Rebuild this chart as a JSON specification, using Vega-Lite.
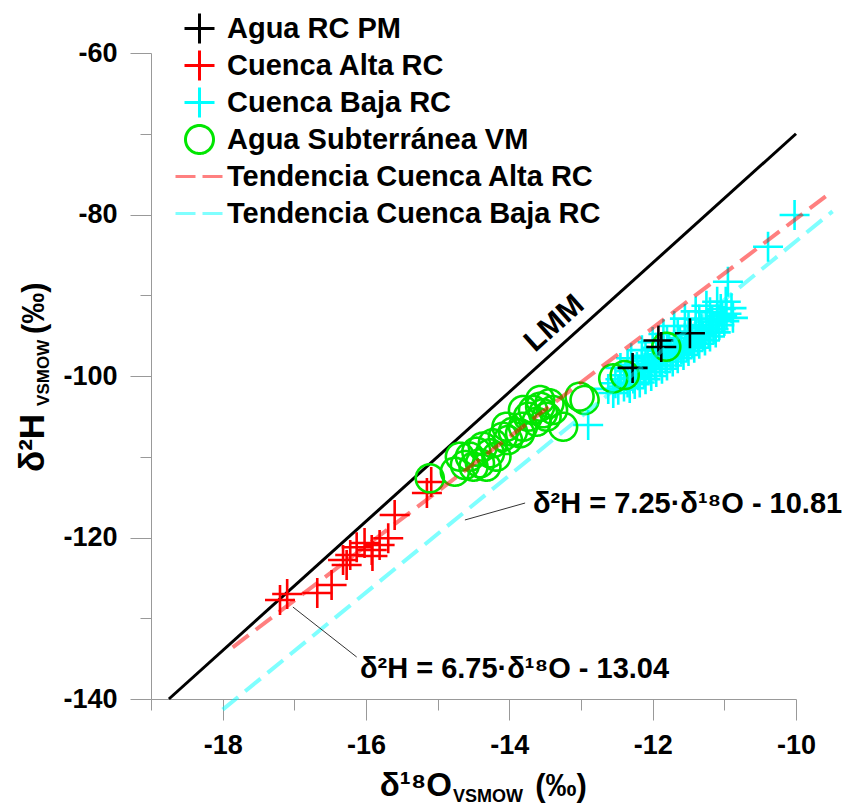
{
  "$schema": "https://vega.github.io/schema/vega-lite/v6.json",
  "width": 645,
  "height": 646,
  "autosize": {"type": "none"},
  "padding": {"left": 151, "top": 53, "right": 50, "bottom": 107},
  "config": {
    "view": {"stroke": null},
    "font": "Liberation Sans",
    "axis": {"grid": false, "domainColor": "#999999", "tickColor": "#999999", "labelFont": "Liberation Sans", "labelFontSize": 27, "labelFontWeight": "bold", "labelColor": "#000000"},
    "legend": {"orient": "none", "legendX": 34, "legendY": -39, "title": null, "padding": 0, "labelFont": "Liberation Sans", "labelFontSize": 29, "labelFontWeight": "bold", "labelColor": "#000000", "labelOffset": 13, "labelLimit": 600, "rowPadding": -6, "gridAlign": "all", "symbolSize": 400, "symbolStrokeWidth": 3}
  },
  "datasets": {
    "lines": [
      {"s": "LMM", "o": -18.75, "h": -140},
      {"s": "LMM", "o": -10, "h": -70},
      {"s": "alta", "o": -17.86, "h": -133.60},
      {"s": "alta", "o": -9.49, "h": -77.10},
      {"s": "baja", "o": -18.0, "h": -141.31},
      {"s": "baja", "o": -9.49, "h": -79.61}
    ],
    "points": [
      {"g": "Cuenca Alta RC", "o": -17.20, "h": -127.74},
      {"g": "Cuenca Alta RC", "o": -17.10, "h": -126.99},
      {"g": "Cuenca Alta RC", "o": -16.68, "h": -126.87},
      {"g": "Cuenca Alta RC", "o": -16.48, "h": -125.88},
      {"g": "Cuenca Alta RC", "o": -16.32, "h": -122.79},
      {"g": "Cuenca Alta RC", "o": -16.27, "h": -123.40},
      {"g": "Cuenca Alta RC", "o": -16.22, "h": -122.17},
      {"g": "Cuenca Alta RC", "o": -16.13, "h": -121.21},
      {"g": "Cuenca Alta RC", "o": -16.02, "h": -120.68},
      {"g": "Cuenca Alta RC", "o": -15.92, "h": -121.55},
      {"g": "Cuenca Alta RC", "o": -15.91, "h": -122.29},
      {"g": "Cuenca Alta RC", "o": -15.81, "h": -120.93},
      {"g": "Cuenca Alta RC", "o": -15.69, "h": -120.10},
      {"g": "Cuenca Alta RC", "o": -15.60, "h": -117.21},
      {"g": "Cuenca Alta RC", "o": -15.15, "h": -114.49},
      {"g": "Cuenca Alta RC", "o": -15.09, "h": -113.13},
      {"g": "Cuenca Baja RC", "o": -12.62, "h": -101.6},
      {"g": "Cuenca Baja RC", "o": -12.55, "h": -102.1},
      {"g": "Cuenca Baja RC", "o": -12.52, "h": -100.9},
      {"g": "Cuenca Baja RC", "o": -12.48, "h": -101.7},
      {"g": "Cuenca Baja RC", "o": -12.45, "h": -100.4},
      {"g": "Cuenca Baja RC", "o": -12.45, "h": -99.0},
      {"g": "Cuenca Baja RC", "o": -12.40, "h": -101.3},
      {"g": "Cuenca Baja RC", "o": -12.38, "h": -99.9},
      {"g": "Cuenca Baja RC", "o": -12.35, "h": -100.8},
      {"g": "Cuenca Baja RC", "o": -12.35, "h": -98.6},
      {"g": "Cuenca Baja RC", "o": -12.32, "h": -101.5},
      {"g": "Cuenca Baja RC", "o": -12.30, "h": -99.4},
      {"g": "Cuenca Baja RC", "o": -12.30, "h": -97.8},
      {"g": "Cuenca Baja RC", "o": -12.27, "h": -100.3},
      {"g": "Cuenca Baja RC", "o": -12.25, "h": -101.0},
      {"g": "Cuenca Baja RC", "o": -12.22, "h": -98.9},
      {"g": "Cuenca Baja RC", "o": -12.20, "h": -99.9},
      {"g": "Cuenca Baja RC", "o": -12.18, "h": -100.8},
      {"g": "Cuenca Baja RC", "o": -12.15, "h": -98.5},
      {"g": "Cuenca Baja RC", "o": -12.15, "h": -96.8},
      {"g": "Cuenca Baja RC", "o": -12.12, "h": -99.5},
      {"g": "Cuenca Baja RC", "o": -12.10, "h": -100.4},
      {"g": "Cuenca Baja RC", "o": -12.10, "h": -97.5},
      {"g": "Cuenca Baja RC", "o": -12.07, "h": -98.1},
      {"g": "Cuenca Baja RC", "o": -12.05, "h": -99.1},
      {"g": "Cuenca Baja RC", "o": -12.02, "h": -100.0},
      {"g": "Cuenca Baja RC", "o": -12.00, "h": -97.7},
      {"g": "Cuenca Baja RC", "o": -12.00, "h": -95.8},
      {"g": "Cuenca Baja RC", "o": -11.97, "h": -98.7},
      {"g": "Cuenca Baja RC", "o": -11.95, "h": -99.5},
      {"g": "Cuenca Baja RC", "o": -11.95, "h": -96.5},
      {"g": "Cuenca Baja RC", "o": -11.92, "h": -97.3},
      {"g": "Cuenca Baja RC", "o": -11.90, "h": -98.3},
      {"g": "Cuenca Baja RC", "o": -11.87, "h": -99.1},
      {"g": "Cuenca Baja RC", "o": -11.85, "h": -96.9},
      {"g": "Cuenca Baja RC", "o": -11.85, "h": -94.8},
      {"g": "Cuenca Baja RC", "o": -11.82, "h": -97.9},
      {"g": "Cuenca Baja RC", "o": -11.80, "h": -98.7},
      {"g": "Cuenca Baja RC", "o": -11.80, "h": -95.6},
      {"g": "Cuenca Baja RC", "o": -11.77, "h": -96.5},
      {"g": "Cuenca Baja RC", "o": -11.75, "h": -97.5},
      {"g": "Cuenca Baja RC", "o": -11.72, "h": -98.2},
      {"g": "Cuenca Baja RC", "o": -11.70, "h": -96.1},
      {"g": "Cuenca Baja RC", "o": -11.70, "h": -93.8},
      {"g": "Cuenca Baja RC", "o": -11.67, "h": -97.1},
      {"g": "Cuenca Baja RC", "o": -11.65, "h": -97.8},
      {"g": "Cuenca Baja RC", "o": -11.65, "h": -94.7},
      {"g": "Cuenca Baja RC", "o": -11.62, "h": -95.7},
      {"g": "Cuenca Baja RC", "o": -11.60, "h": -96.7},
      {"g": "Cuenca Baja RC", "o": -11.57, "h": -97.4},
      {"g": "Cuenca Baja RC", "o": -11.55, "h": -95.3},
      {"g": "Cuenca Baja RC", "o": -11.55, "h": -92.9},
      {"g": "Cuenca Baja RC", "o": -11.52, "h": -96.3},
      {"g": "Cuenca Baja RC", "o": -11.50, "h": -96.9},
      {"g": "Cuenca Baja RC", "o": -11.50, "h": -93.8},
      {"g": "Cuenca Baja RC", "o": -11.47, "h": -94.9},
      {"g": "Cuenca Baja RC", "o": -11.45, "h": -95.9},
      {"g": "Cuenca Baja RC", "o": -11.42, "h": -96.5},
      {"g": "Cuenca Baja RC", "o": -11.40, "h": -94.5},
      {"g": "Cuenca Baja RC", "o": -11.40, "h": -92.0},
      {"g": "Cuenca Baja RC", "o": -11.37, "h": -95.5},
      {"g": "Cuenca Baja RC", "o": -11.35, "h": -96.0},
      {"g": "Cuenca Baja RC", "o": -11.35, "h": -93.0},
      {"g": "Cuenca Baja RC", "o": -11.32, "h": -94.1},
      {"g": "Cuenca Baja RC", "o": -11.30, "h": -95.0},
      {"g": "Cuenca Baja RC", "o": -11.27, "h": -95.6},
      {"g": "Cuenca Baja RC", "o": -11.25, "h": -93.7},
      {"g": "Cuenca Baja RC", "o": -11.25, "h": -91.3},
      {"g": "Cuenca Baja RC", "o": -11.22, "h": -94.6},
      {"g": "Cuenca Baja RC", "o": -11.20, "h": -95.1},
      {"g": "Cuenca Baja RC", "o": -11.20, "h": -92.1},
      {"g": "Cuenca Baja RC", "o": -11.17, "h": -93.3},
      {"g": "Cuenca Baja RC", "o": -11.15, "h": -94.2},
      {"g": "Cuenca Baja RC", "o": -11.12, "h": -94.6},
      {"g": "Cuenca Baja RC", "o": -11.10, "h": -92.9},
      {"g": "Cuenca Baja RC", "o": -11.10, "h": -90.8},
      {"g": "Cuenca Baja RC", "o": -11.07, "h": -93.7},
      {"g": "Cuenca Baja RC", "o": -11.05, "h": -91.7},
      {"g": "Cuenca Baja RC", "o": -11.03, "h": -92.6},
      {"g": "Cuenca Baja RC", "o": -11.00, "h": -93.2},
      {"g": "Cuenca Baja RC", "o": -10.98, "h": -90.8},
      {"g": "Cuenca Baja RC", "o": -10.97, "h": -92.3},
      {"g": "Cuenca Baja RC", "o": -10.90, "h": -91.6},
      {"g": "Cuenca Baja RC", "o": -10.88, "h": -92.8},
      {"g": "Cuenca Baja RC", "o": -12.90, "h": -106.07},
      {"g": "Cuenca Baja RC", "o": -10.95, "h": -88.32},
      {"g": "Cuenca Baja RC", "o": -10.39, "h": -83.99},
      {"g": "Cuenca Baja RC", "o": -10.02, "h": -80.06},
      {"g": "Agua Subterránea VM", "o": -15.11, "h": -112.67},
      {"g": "Agua Subterránea VM", "o": -14.76, "h": -111.85},
      {"g": "Agua Subterránea VM", "o": -14.69, "h": -109.99},
      {"g": "Agua Subterránea VM", "o": -14.62, "h": -111.02},
      {"g": "Agua Subterránea VM", "o": -14.55, "h": -109.99},
      {"g": "Agua Subterránea VM", "o": -14.50, "h": -111.23},
      {"g": "Agua Subterránea VM", "o": -14.46, "h": -109.37},
      {"g": "Agua Subterránea VM", "o": -14.41, "h": -110.81},
      {"g": "Agua Subterránea VM", "o": -14.37, "h": -108.75},
      {"g": "Agua Subterránea VM", "o": -14.32, "h": -111.23},
      {"g": "Agua Subterránea VM", "o": -14.27, "h": -109.57},
      {"g": "Agua Subterránea VM", "o": -14.23, "h": -108.33},
      {"g": "Agua Subterránea VM", "o": -14.18, "h": -109.99},
      {"g": "Agua Subterránea VM", "o": -14.09, "h": -107.52},
      {"g": "Agua Subterránea VM", "o": -14.04, "h": -106.28},
      {"g": "Agua Subterránea VM", "o": -14.02, "h": -107.93},
      {"g": "Agua Subterránea VM", "o": -13.95, "h": -106.90},
      {"g": "Agua Subterránea VM", "o": -13.85, "h": -107.10},
      {"g": "Agua Subterránea VM", "o": -13.81, "h": -106.28},
      {"g": "Agua Subterránea VM", "o": -13.81, "h": -104.21},
      {"g": "Agua Subterránea VM", "o": -13.74, "h": -105.04},
      {"g": "Agua Subterránea VM", "o": -13.67, "h": -104.21},
      {"g": "Agua Subterránea VM", "o": -13.62, "h": -105.66},
      {"g": "Agua Subterránea VM", "o": -13.57, "h": -103.80},
      {"g": "Agua Subterránea VM", "o": -13.57, "h": -102.97},
      {"g": "Agua Subterránea VM", "o": -13.53, "h": -104.62},
      {"g": "Agua Subterránea VM", "o": -13.48, "h": -105.04},
      {"g": "Agua Subterránea VM", "o": -13.44, "h": -103.38},
      {"g": "Agua Subterránea VM", "o": -13.39, "h": -104.21},
      {"g": "Agua Subterránea VM", "o": -13.25, "h": -106.28},
      {"g": "Agua Subterránea VM", "o": -13.02, "h": -102.56},
      {"g": "Agua Subterránea VM", "o": -12.95, "h": -102.97},
      {"g": "Agua Subterránea VM", "o": -12.55, "h": -100.29},
      {"g": "Agua Subterránea VM", "o": -12.39, "h": -99.88},
      {"g": "Agua Subterránea VM", "o": -11.81, "h": -96.37},
      {"g": "Agua RC PM", "o": -12.28, "h": -99.0},
      {"g": "Agua RC PM", "o": -11.92, "h": -95.6},
      {"g": "Agua RC PM", "o": -11.88, "h": -96.4},
      {"g": "Agua RC PM", "o": -11.48, "h": -94.7}
    ]
  },
  "layer": [
    {
      "data": {"name": "lines"},
      "transform": [{"filter": "datum.s === 'LMM'"}],
      "mark": {"type": "line", "color": "#000000", "strokeWidth": 3},
      "encoding": {
        "x": {"field": "o", "type": "quantitative", "scale": {"domain": [-19, -10], "nice": false, "zero": false},
          "axis": {"orient": "bottom", "values": [-18, -16, -14, -12, -10], "tickSize": 21, "labelPadding": 12, "labelExpr": "'-' + abs(datum.value)", "title": null, "labelFlush": false, "labelOverlap": false}},
        "y": {"field": "h", "type": "quantitative", "scale": {"domain": [-140, -60], "nice": false, "zero": false},
          "axis": {"orient": "left", "values": [-140, -120, -100, -80, -60], "tickSize": 21, "labelPadding": 13, "labelExpr": "'-' + abs(datum.value)", "title": null, "labelFlush": false, "labelOverlap": false}}
      }
    },
    {
      "data": {"name": "points"},
      "mark": {"type": "point", "filled": false, "size": 400, "strokeWidth": 2.6, "opacity": 1},
      "encoding": {
        "x": {"field": "o", "type": "quantitative", "scale": {"domain": [-19, -10], "nice": false, "zero": false},
          "axis": {"orient": "bottom", "values": [-19, -17, -15, -13, -11], "tickSize": 11, "labels": false, "domain": false, "title": null}},
        "y": {"field": "h", "type": "quantitative", "scale": {"domain": [-140, -60], "nice": false, "zero": false},
          "axis": {"orient": "left", "values": [-130, -110, -90, -70], "tickSize": 11, "labels": false, "domain": false, "title": null}},
        "color": {"field": "g", "type": "nominal",
          "scale": {"domain": ["Agua RC PM", "Cuenca Alta RC", "Cuenca Baja RC", "Agua Subterránea VM", "Tendencia Cuenca Alta RC", "Tendencia Cuenca Baja RC"],
            "range": ["#000000", "#FF0000", "#00FFFF", "#00E600", "#FF8080", "#80FFFF"]}},
        "shape": {"field": "g", "type": "nominal",
          "scale": {"domain": ["Agua RC PM", "Cuenca Alta RC", "Cuenca Baja RC", "Agua Subterránea VM", "Tendencia Cuenca Alta RC", "Tendencia Cuenca Baja RC"],
            "range": ["M-1.5,0H1.5M0,-1.5V1.5", "M-1.5,0H1.5M0,-1.5V1.5", "M-1.5,0H1.5M0,-1.5V1.5", "M1.4,0A1.4,1.4,0,1,1,-1.4,0A1.4,1.4,0,1,1,1.4,0Z", "M-2.4,0H2.4", "M-2.4,0H2.4"]}},
        "strokeDash": {"field": "g", "type": "nominal",
          "scale": {"domain": ["Agua RC PM", "Cuenca Alta RC", "Cuenca Baja RC", "Agua Subterránea VM", "Tendencia Cuenca Alta RC", "Tendencia Cuenca Baja RC"],
            "range": [[1, 0], [1, 0], [1, 0], [1, 0], [20, 7], [20, 7]]}}
      }
    },
    {
      "data": {"name": "lines"},
      "transform": [{"filter": "datum.s === 'alta'"}],
      "mark": {"type": "line", "color": "#FF0000", "opacity": 0.5, "strokeWidth": 4, "strokeDash": [20, 9]},
      "encoding": {
        "x": {"field": "o", "type": "quantitative", "axis": null},
        "y": {"field": "h", "type": "quantitative", "axis": null}
      }
    },
    {
      "data": {"name": "lines"},
      "transform": [{"filter": "datum.s === 'baja'"}],
      "mark": {"type": "line", "color": "#00FFFF", "opacity": 0.5, "strokeWidth": 4, "strokeDash": [20, 9]},
      "encoding": {
        "x": {"field": "o", "type": "quantitative", "axis": null},
        "y": {"field": "h", "type": "quantitative", "axis": null}
      }
    },
    {
      "data": {"values": [{}]},
      "mark": {"type": "rule", "color": "#333333", "strokeWidth": 1},
      "encoding": {
        "x": {"datum": -14.62, "type": "quantitative", "axis": null},
        "y": {"datum": -117.83, "type": "quantitative", "axis": null},
        "x2": {"datum": -13.78},
        "y2": {"datum": -115.73}
      }
    },
    {
      "data": {"values": [{}]},
      "mark": {"type": "rule", "color": "#333333", "strokeWidth": 1},
      "encoding": {
        "x": {"datum": -17.02, "type": "quantitative", "axis": null},
        "y": {"datum": -128.61, "type": "quantitative", "axis": null},
        "x2": {"datum": -16.13},
        "y2": {"datum": -134.80}
      }
    },
    {
      "data": {"values": [{}]},
      "mark": {"type": "text", "text": "δ²H = 7.25·δ¹⁸O - 10.81", "align": "left", "baseline": "alphabetic", "fontSize": 29, "fontWeight": "bold", "font": "Liberation Sans", "color": "#000000"},
      "encoding": {
        "x": {"datum": -13.67, "type": "quantitative", "axis": null},
        "y": {"datum": -116.97, "type": "quantitative", "axis": null}
      }
    },
    {
      "data": {"values": [{}]},
      "mark": {"type": "text", "text": "δ²H = 6.75·δ¹⁸O - 13.04", "align": "left", "baseline": "alphabetic", "fontSize": 29, "fontWeight": "bold", "font": "Liberation Sans", "color": "#000000"},
      "encoding": {
        "x": {"datum": -16.085, "type": "quantitative", "axis": null},
        "y": {"datum": -137.40, "type": "quantitative", "axis": null}
      }
    },
    {
      "data": {"values": [{}]},
      "mark": {"type": "text", "text": "LMM", "align": "center", "baseline": "middle", "angle": -42, "fontSize": 30, "fontWeight": "bold", "font": "Liberation Sans", "color": "#000000"},
      "encoding": {
        "x": {"datum": -13.37, "type": "quantitative", "axis": null},
        "y": {"datum": -93.5, "type": "quantitative", "axis": null}
      }
    },
    {
      "data": {"values": [{}]},
      "mark": {"type": "text", "text": "δ¹⁸O", "align": "right", "baseline": "alphabetic", "fontSize": 33, "fontWeight": "bold", "font": "Liberation Sans", "color": "#000000"},
      "encoding": {
        "x": {"datum": -14.80, "type": "quantitative", "axis": null},
        "y": {"datum": -152.0, "type": "quantitative", "axis": null}
      }
    },
    {
      "data": {"values": [{}]},
      "mark": {"type": "text", "text": "VSMOW", "align": "left", "baseline": "alphabetic", "fontSize": 18, "fontWeight": "bold", "font": "Liberation Sans", "color": "#000000"},
      "encoding": {
        "x": {"datum": -14.785, "type": "quantitative", "axis": null},
        "y": {"datum": -152.8, "type": "quantitative", "axis": null}
      }
    },
    {
      "data": {"values": [{}]},
      "mark": {"type": "text", "text": "(‰)", "align": "left", "baseline": "alphabetic", "fontSize": 31, "fontWeight": "bold", "font": "Liberation Sans", "color": "#000000"},
      "encoding": {
        "x": {"datum": -13.64, "type": "quantitative", "axis": null},
        "y": {"datum": -152.0, "type": "quantitative", "axis": null}
      }
    },
    {
      "data": {"values": [{}]},
      "mark": {"type": "text", "text": "δ²H", "align": "left", "baseline": "alphabetic", "angle": 270, "fontSize": 35, "fontWeight": "bold", "font": "Liberation Sans", "color": "#000000"},
      "encoding": {
        "x": {"datum": -20.49, "type": "quantitative", "axis": null},
        "y": {"datum": -111.89, "type": "quantitative", "axis": null}
      }
    },
    {
      "data": {"values": [{}]},
      "mark": {"type": "text", "text": "VSMOW", "align": "left", "baseline": "alphabetic", "angle": 270, "fontSize": 17, "fontWeight": "bold", "font": "Liberation Sans", "color": "#000000"},
      "encoding": {
        "x": {"datum": -20.43, "type": "quantitative", "axis": null},
        "y": {"datum": -103.7, "type": "quantitative", "axis": null}
      }
    },
    {
      "data": {"values": [{}]},
      "mark": {"type": "text", "text": "(‰)", "align": "left", "baseline": "alphabetic", "angle": 270, "fontSize": 31, "fontWeight": "bold", "font": "Liberation Sans", "color": "#000000"},
      "encoding": {
        "x": {"datum": -20.49, "type": "quantitative", "axis": null},
        "y": {"datum": -94.8, "type": "quantitative", "axis": null}
      }
    }
  ],
  "resolve": {"axis": {"x": "independent", "y": "independent"}}
}
